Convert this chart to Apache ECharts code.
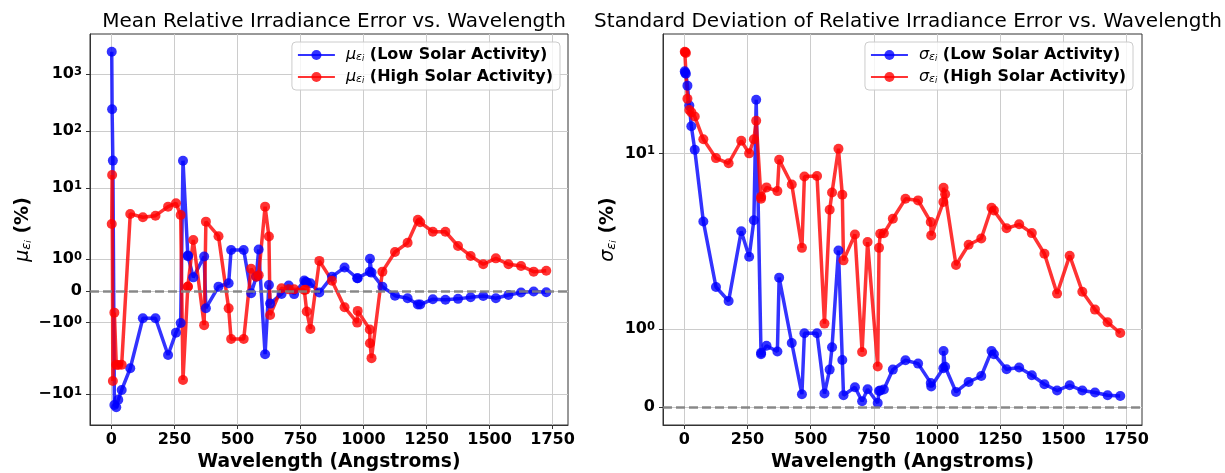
<!DOCTYPE html>
<html>
<head>
<meta charset="utf-8">
<script src="https://cdn.jsdelivr.net/npm/echarts@6/dist/echarts.min.js"></script>
<style>
  html, body { margin: 0; padding: 0; background: #ffffff; }
  #chart { width: 1225px; height: 473px; }
</style>
</head>
<body>
<div id="chart"></div>
<script>
// Wavelength bin centres (Angstroms)
const wavelengths = [1.5, 3, 6, 12, 19.5, 27.5, 41, 75, 125, 175, 225, 256.32, 275, 284.15,
  303.31, 303.78, 325, 368.07, 375, 425, 465.22, 475, 525, 554.37, 575, 584.33, 609.76,
  625, 629.73, 675, 703.36, 725, 765.15, 770.41, 775, 789.36, 825, 875, 925, 975, 977.02,
  1025, 1025.72, 1031.91, 1075, 1125, 1175, 1215.67, 1225, 1275, 1325, 1375, 1425, 1475,
  1525, 1575, 1625, 1675, 1725];

// Mean relative irradiance error (%)
const meanLow = [2440, 240, 30, -15.5, -17, -12.6, -8.45, -3.52, -0.862, -0.862, -2.06, -1.317,
  -1.01, 29.9, 1.12, 1.10, 0.43, 1.09, -0.546, 0.136, 0.243, 1.295, 1.295, -0.073, 0.45, 1.31,
  -2.0, 0.19, -0.40, -0.095, 0.17, -0.10, 0.33, 0.29, 0.27, 0.24, -0.05, 0.45, 0.74, 0.40, 0.40,
  0.61, 1.02, 0.58, 0.136, -0.15, -0.23, -0.43, -0.43, -0.26, -0.28, -0.25, -0.20, -0.16, -0.23,
  -0.13, -0.05, -0.02, -0.04];
const meanHigh = [2.32, 16.8, -5.88, -0.685, -3.05, -3.08, -3.05, 3.48, 3.04, 3.24, 4.67, 5.36,
  3.33, -5.65, 0.14, 0.13, 1.61, -1.08, 2.55, 1.73, -0.55, -1.52, -1.52, 0.70, 0.45, 0.50, 4.67,
  1.72, -0.76, 0.085, 0.05, 0.05, 0.03, 0.04, -0.65, -1.2, 0.95, 0.325, -0.515, -1.0, -0.63,
  -1.22, -1.65, -2.34, 0.61, 1.23, 1.52, 2.75, 2.48, 1.87, 1.87, 1.42, 1.105, 0.843, 1.03, 0.843,
  0.79, 0.61, 0.64];

// Standard deviation of relative irradiance error (%)
const stdLow = [38.5, 37.5, 37, 30.4, 21.9, 15.6, 10.6, 3.27, 1.543, 1.363, 2.78, 1.932, 3.33,
  24.1, 0.68, 0.70, 0.79, 0.715, 1.663, 0.824, 0.167, 0.949, 0.949, 0.176, 0.483, 0.769, 2.03,
  0.606, 0.154, 0.256, 0.077, 0.231, 0.055, 0.209, 0.215, 0.227, 0.483, 0.603, 0.560, 0.312,
  0.265, 0.50, 0.722, 0.52, 0.196, 0.324, 0.401, 0.722, 0.68, 0.487, 0.509, 0.41, 0.295, 0.214,
  0.282, 0.214, 0.188, 0.154, 0.145];
const stdHigh = [53, 52.6, 52, 24.5, 20.4, 19.6, 18.3, 12.6, 9.25, 8.5, 12.3, 10.0, 12.6, 17.1,
  4.74, 4.9, 5.72, 5.38, 9.0, 6.0, 2.12, 6.84, 6.89, 1.073, 3.96, 5.26, 10.8, 5.07, 1.885, 2.64,
  0.709, 2.33, 0.522, 2.12, 2.67, 2.69, 3.42, 4.74, 4.62, 3.24, 2.60, 4.50, 5.69, 5.12, 1.825,
  2.23, 2.47, 4.09, 3.92, 2.92, 3.12, 2.70, 1.97, 1.458, 1.945, 1.483, 1.253, 1.090, 0.953];

// Tick positions and labels (rich text: n = base, p = superscript)
const xTicks = [0, 250, 500, 750, 1000, 1250, 1500, 1750];
const meanTicks = [-10, -1, 0, 1, 10, 100, 1000];
const meanTickLabels = ['{n|\u221210}{p|1}', '{n|\u221210}{p|0}', '{z|0}', '{n|10}{p|0}', '{n|10}{p|1}', '{n|10}{p|2}', '{n|10}{p|3}'];
const stdTicks = [0, 1, 10];
const stdTickLabels = ['{z|0}', '{n|10}{p|0}', '{n|10}{p|1}'];

// Symmetric log transform (linear within +/-2, base 10 outside, linscale 1)
const LIN_THRESH = 2;
const LIN_SCALE_ADJ = 1 / (1 - 1 / 10);
function symlog(v) {
  const a = Math.abs(v);
  if (a <= LIN_THRESH) return v * LIN_SCALE_ADJ;
  return Math.sign(v) * LIN_THRESH * (LIN_SCALE_ADJ + Math.log10(a / LIN_THRESH));
}

// Axis range with 5% padding on the transformed data
function paddedRange(values, extra) {
  const all = values.concat(extra || []);
  const lo = Math.min(...all), hi = Math.max(...all);
  const pad = (hi - lo) * 0.05;
  return [lo - pad, hi + pad];
}

const FONT = 'DejaVu Sans';
const xRange = paddedRange(wavelengths);
const meanRange = paddedRange(meanLow.concat(meanHigh).map(symlog), [0]);
const stdRange = paddedRange(stdLow.concat(stdHigh).map(symlog), [0]);

function tickFormatter(ticks, labels) {
  return function (val) {
    const i = ticks.findIndex(t => Math.abs(symlog(t) - val) < 1e-6);
    return i >= 0 ? labels[i] : '';
  };
}

const richTick = {
  n: { fontFamily: FONT, fontWeight: 'bold', fontSize: 16, lineHeight: 16, color: '#000', verticalAlign: 'bottom', padding: [5, 0, 0, 0] },
  p: { fontFamily: FONT, fontWeight: 'bold', fontSize: 11.5, lineHeight: 12, color: '#000', verticalAlign: 'top' },
  z: { fontFamily: FONT, fontWeight: 'bold', fontSize: 16, lineHeight: 16, color: '#000', verticalAlign: 'bottom', padding: [5, 0, 0, 0] }
};

const richSym = {
  g: { fontFamily: FONT, fontStyle: 'italic', fontWeight: 'normal', fontSize: 16, color: '#000', verticalAlign: 'middle' },
  s: { fontFamily: FONT, fontStyle: 'italic', fontWeight: 'normal', fontSize: 11, lineHeight: 11, color: '#000', verticalAlign: 'bottom' },
  t: { fontFamily: FONT, fontStyle: 'italic', fontWeight: 'normal', fontSize: 8, lineHeight: 8, color: '#000', verticalAlign: 'bottom' },
  b: { fontFamily: FONT, fontWeight: 'bold', fontSize: 16, color: '#000', verticalAlign: 'middle' }
};
const richAxisName = {
  g: { fontFamily: FONT, fontStyle: 'italic', fontWeight: 'normal', fontSize: 19, color: '#000', verticalAlign: 'middle' },
  s: { fontFamily: FONT, fontStyle: 'italic', fontWeight: 'normal', fontSize: 13, lineHeight: 13, color: '#000', verticalAlign: 'bottom' },
  t: { fontFamily: FONT, fontStyle: 'italic', fontWeight: 'normal', fontSize: 9, lineHeight: 9, color: '#000', verticalAlign: 'bottom' },
  b: { fontFamily: FONT, fontWeight: 'bold', fontSize: 19, color: '#000', verticalAlign: 'middle' }
};

const legendText = {
  meanLow: '{g|\u03BC}{s|\u03B5}{t|i}{b| (Low Solar Activity)}',
  meanHigh: '{g|\u03BC}{s|\u03B5}{t|i}{b| (High Solar Activity)}',
  stdLow: '{g|\u03C3}{s|\u03B5}{t|i}{b| (Low Solar Activity)}',
  stdHigh: '{g|\u03C3}{s|\u03B5}{t|i}{b| (High Solar Activity)}'
};

const BLUE = '#0000ff';
const RED = '#ff0000';

function lineSeries(name, axisIndex, values, color, zeroLine) {
  const s = {
    name: name,
    type: 'line',
    xAxisIndex: axisIndex,
    yAxisIndex: axisIndex,
    data: wavelengths.map((w, i) => [w, symlog(values[i])]),
    symbol: 'circle',
    symbolSize: 10,
    showSymbol: true,
    showAllSymbol: true,
    lineStyle: { color: color, width: 3.5, opacity: 0.8 },
    itemStyle: { color: color, opacity: 0.8 },
    emphasis: { disabled: true },
    animation: false
  };
  if (zeroLine) {
    s.markLine = {
      silent: true,
      symbol: ['none', 'none'],
      label: { show: false },
      lineStyle: { color: '#808080', width: 2.5, type: [9, 4], opacity: 0.9 },
      data: [{ yAxis: 0 }],
      animation: false
    };
  }
  return s;
}

function xAxis(gridIndex) {
  return {
    type: 'value',
    gridIndex: gridIndex,
    min: xRange[0],
    max: xRange[1],
    axisLine: { show: true, onZero: false, lineStyle: { color: '#333', width: 1 } },
    axisTick: { show: true, customValues: xTicks, length: 4, lineStyle: { color: '#333' } },
    axisLabel: { customValues: xTicks, formatter: v => String(v), fontFamily: FONT, fontWeight: 'bold', fontSize: 16, color: '#000', margin: 7 },
    splitLine: { show: true, lineStyle: { color: '#cccccc', width: 1 } },
    name: 'Wavelength (Angstroms)',
    nameLocation: 'middle',
    nameGap: 28,
    nameTextStyle: { fontFamily: FONT, fontWeight: 'bold', fontSize: 18.7, color: '#000' }
  };
}

function yAxis(gridIndex, range, ticks, labels, nameRich, nameGap) {
  const vals = ticks.map(symlog);
  return {
    type: 'value',
    gridIndex: gridIndex,
    min: range[0],
    max: range[1],
    axisLine: { show: true, onZero: false, lineStyle: { color: '#333', width: 1 } },
    axisTick: { show: true, customValues: vals, length: 4, lineStyle: { color: '#333' } },
    axisLabel: { customValues: vals, formatter: tickFormatter(ticks, labels), margin: 8, rich: richTick },
    splitLine: { show: true, lineStyle: { color: '#cccccc', width: 1 } },
    name: nameRich,
    nameLocation: 'middle',
    nameRotate: 90,
    nameGap: nameGap,
    nameTextStyle: { rich: richAxisName }
  };
}

function legend(names, right) {
  return {
    data: names,
    orient: 'vertical',
    right: right,
    top: 42,
    itemWidth: 37,
    itemHeight: 12.5,
    itemGap: 6,
    padding: [5, 7, 5, 5],
    backgroundColor: 'rgba(255,255,255,0.8)',
    borderColor: '#cccccc',
    borderWidth: 1,
    borderRadius: 4,
    selectedMode: false,
    formatter: n => legendText[n],
    textStyle: { padding: [0, 0, 0, 6], rich: richSym }
  };
}

const gridBase = { top: 34, bottom: 48, show: true, borderColor: '#333', borderWidth: 1,
  backgroundColor: 'transparent', outerBoundsMode: 'none', containLabel: false };

const chart = echarts.init(document.getElementById('chart'), null, { renderer: 'canvas' });
chart.setOption({
  animation: false,
  backgroundColor: '#ffffff',
  title: [
    { text: 'Mean Relative Irradiance Error vs. Wavelength', left: 329, top: 7, textAlign: 'center',
      textStyle: { fontFamily: FONT, fontWeight: 'normal', fontSize: 20, color: '#000' } },
    { text: 'Standard Deviation of Relative Irradiance Error vs. Wavelength', left: 903, top: 7, textAlign: 'center',
      textStyle: { fontFamily: FONT, fontWeight: 'normal', fontSize: 20, color: '#000' } }
  ],
  grid: [
    Object.assign({ left: 90, right: 657 }, gridBase),
    Object.assign({ left: 663, right: 83 }, gridBase)
  ],
  xAxis: [xAxis(0), xAxis(1)],
  yAxis: [
    yAxis(0, meanRange, meanTicks, meanTickLabels, '{g|\u03BC}{s|\u03B5}{t|i}{b| (%)}', 57),
    yAxis(1, stdRange, stdTicks, stdTickLabels, '{g|\u03C3}{s|\u03B5}{t|i}{b| (%)}', 45)
  ],
  legend: [
    legend(['meanLow', 'meanHigh'], 665),
    legend(['stdLow', 'stdHigh'], 92)
  ],
  series: [
    lineSeries('meanLow', 0, meanLow, BLUE, true),
    lineSeries('meanHigh', 0, meanHigh, RED, false),
    lineSeries('stdLow', 1, stdLow, BLUE, true),
    lineSeries('stdHigh', 1, stdHigh, RED, false)
  ]
});
</script>
</body>
</html>
